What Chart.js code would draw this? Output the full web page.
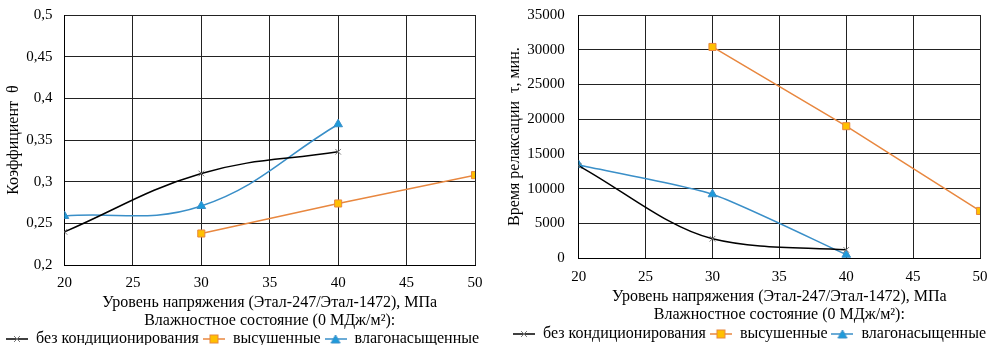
<!DOCTYPE html>
<html lang="ru">
<head>
<meta charset="UTF-8">
<title>Релаксация</title>
<script src="https://cdn.jsdelivr.net/npm/chart.js"></script>
<style>
  body { margin: 0; background: #fff; }
  .row { display: flex; width: 992px; height: 345px; }
  .box { position: relative; width: 496px; height: 345px; }
</style>
</head>
<body>
<div class="row">
  <div class="box"><canvas id="chartTheta"></canvas></div>
  <div class="box"><canvas id="chartTau"></canvas></div>
</div>
<script>
// stress levels, MPa
const stressLevels = [20, 30, 40, 50];

// coefficient theta
const thetaPlain = [0.240, 0.310, 0.336, null];
const thetaDried = [null, 0.238, 0.274, 0.308];
const thetaWet   = [0.259, 0.271, 0.369, null];

// relaxation time tau, min
const tauPlain = [13300, 2800, 1200, null];
const tauDried = [null, 30400, 19000, 6800];
const tauWet   = [13400, 9200, 500, null];

const seriesNames = ['без кондиционирования', 'высушенные', 'влагонасыщенные'];
const xTitle = ['Уровень напряжения (Этал-247/Этал-1472), МПа', 'Влажностное состояние (0 МДж/м²):'];

const FONT = "'Liberation Serif', 'Times New Roman', serif";
const styles = [
  { line: '#000000', fill: '#777777', marker: 'crossRot', radius: 4 },
  { line: '#E8873F', fill: '#FFC000', marker: 'rect', radius: 5 },
  { line: '#3A8FC8', fill: '#1E9BDB', marker: 'triangle', radius: 5 }
];

// small picture for legend: line with the marker in the middle
function legendIcon(s) {
  const c = document.createElement('canvas');
  c.width = 22; c.height = 12;
  const g = c.getContext('2d');
  g.strokeStyle = s.line;
  g.lineWidth = 1.5;
  g.beginPath(); g.moveTo(0, 6); g.lineTo(22, 6); g.stroke();
  g.fillStyle = s.fill;
  g.strokeStyle = s.marker === 'crossRot' ? s.fill : s.line;
  g.lineWidth = 1;
  if (s.marker === 'rect') {
    g.fillRect(7, 2, 8, 8); g.strokeRect(7, 2, 8, 8);
  } else if (s.marker === 'triangle') {
    g.beginPath(); g.moveTo(11, 2); g.lineTo(15.5, 10); g.lineTo(6.5, 10); g.closePath();
    g.fill(); g.stroke();
  } else {
    g.beginPath(); g.moveTo(8, 3); g.lineTo(14, 9); g.moveTo(14, 3); g.lineTo(8, 9); g.stroke();
  }
  return c;
}

function makeSet(name, vals, s, tension, mode) {
  return {
    label: name,
    data: stressLevels.map((x, i) => ({ x: x, y: vals[i] })),
    borderColor: s.line,
    backgroundColor: s.fill,
    borderWidth: 1.5,
    pointStyle: s.marker,
    pointRadius: s.radius,
    pointBorderColor: s.marker === 'crossRot' ? s.fill : s.line,
    pointBackgroundColor: s.fill,
    pointBorderWidth: 1,
    tension: tension,
    cubicInterpolationMode: mode || 'default',
    spanGaps: false
  };
}

// sp: spacing tweaks around the plot
function makeChart(id, sets, yOpts, yTitle, pad, sp) {
  return new Chart(document.getElementById(id), {
    type: 'line',
    data: { datasets: sets },
    options: {
      responsive: true,
      maintainAspectRatio: false,
      animation: false,
      layout: { padding: pad },
      scales: {
        x: {
          type: 'linear', min: 20, max: 50,
          afterFit: scale => { scale.paddingRight = sp.right; },
          ticks: { stepSize: 5, color: '#000', font: { family: FONT, size: 15 }, padding: sp.tick },
          grid: { color: '#222', lineWidth: 1, drawTicks: false },
          border: { color: '#000', width: 1 },
          title: { display: true, text: xTitle, color: '#000', font: { family: FONT, size: 16, lineHeight: 1.15 }, padding: { top: sp.titleTop, bottom: sp.titleBottom } }
        },
        y: Object.assign({
          afterFit: scale => { scale.width += sp.left; scale.paddingTop = 15; },
          ticks: Object.assign({ color: '#000', font: { family: FONT, size: 15 }, padding: sp.yTick }, yOpts.ticks),
          grid: { color: '#222', lineWidth: 1, drawTicks: false },
          border: { color: '#000', width: 1 },
          title: { display: true, text: yTitle, color: '#000', font: { family: FONT, size: 16 }, padding: { top: sp.yTitle, bottom: 0 } }
        }, yOpts.range)
      },
      plugins: {
        legend: {
          position: 'bottom',
          align: sp.align,
          labels: {
            color: '#000',
            font: { family: FONT, size: 16 },
            usePointStyle: true,
            pointStyleWidth: 22,
            boxHeight: 12,
            padding: 4,
            generateLabels: chart => chart.data.datasets.map((d, i) => ({
              text: d.label,
              pointStyle: legendIcon(styles[i]),
              fillStyle: 'transparent',
              strokeStyle: 'transparent',
              lineWidth: 0,
              fontColor: '#000',
              datasetIndex: i
            }))
          }
        },
        tooltip: { enabled: false }
      }
    }
  });
}

makeChart('chartTheta', [
  makeSet(seriesNames[0], thetaPlain, styles[0], 0.4),
  makeSet(seriesNames[1], thetaDried, styles[1], 0),
  makeSet(seriesNames[2], thetaWet, styles[2], 0.4)
], {
  range: { min: 0.2, max: 0.5 },
  ticks: { stepSize: 0.05, callback: v => String(Math.round(v * 100) / 100).replace('.', ',') }
}, 'Коэффициент  θ', { left: 2, right: 2, top: 8, bottom: -12 },
   { tick: 9, titleTop: -8, titleBottom: -3, right: 21, left: -9, yTick: 12, yTitle: 2, align: 'start' });

makeChart('chartTau', [
  makeSet(seriesNames[0], tauPlain, styles[0], 0.4, 'monotone'),
  makeSet(seriesNames[1], tauDried, styles[1], 0),
  makeSet(seriesNames[2], tauWet, styles[2], 0.2)
], {
  range: { min: 0, max: 35000 },
  ticks: { stepSize: 5000, callback: v => String(v) }
}, 'Время релаксации  τ, мин.', { left: 2, right: 2, top: 8, bottom: -7 },
   { tick: 10, titleTop: -9, titleBottom: -2, right: 12, left: -11, yTick: 14, yTitle: 7, align: 'end' });
</script>
</body>
</html>
